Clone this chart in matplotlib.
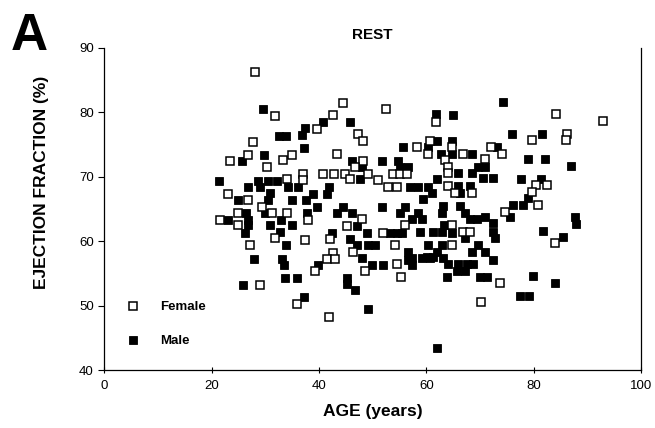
import matplotlib
matplotlib.use('Agg')
import matplotlib.pyplot as plt

plt.rcParams['font.family'] = ['Liberation Sans', 'DejaVu Sans']

# %% data: (age, ejection fraction)
female_age = [28.1, 31.8, 27.7, 35.0, 33.3, 23.5, 26.8, 30.4, 34.1, 23.1,
              26.8, 29.4, 25.0, 31.3, 34.1, 21.6, 25.0, 31.8, 37.4, 27.2,
              29.1, 35.9, 44.5, 52.5, 42.6, 39.7, 47.3, 48.2, 43.4, 48.2,
              46.7, 37.1, 40.8, 42.8, 44.9, 45.8, 49.2, 51.0, 53.8, 55.1,
              56.4, 37.1, 52.9, 54.6, 38.0, 48.0, 45.3, 52.0, 42.1, 54.2,
              42.6, 41.5, 43.0, 46.4, 54.6, 48.6, 39.3, 55.3, 41.9, 61.8,
              58.3, 60.7, 60.3, 64.8, 66.9, 72.1, 74.1, 70.9, 63.5, 64.1,
              64.1, 64.1, 65.4, 68.5, 74.7, 56.1, 64.8, 66.9, 68.2, 64.8,
              73.7, 70.2, 84.2, 92.9, 79.7, 86.2, 86.0, 80.4, 82.5, 79.7,
              80.8, 84.0]
female_ef = [86.2, 79.4, 75.3, 73.3, 72.6, 72.4, 73.3, 71.5, 69.6, 67.3,
             66.4, 65.3, 64.3, 64.3, 64.3, 63.3, 62.5, 60.5, 60.2, 59.4,
             53.2, 50.3, 81.4, 80.5, 79.5, 77.4, 76.6, 75.5, 73.5, 72.4,
             71.5, 70.4, 70.4, 70.4, 70.4, 69.6, 70.4, 69.5, 70.4, 70.4,
             70.4, 69.5, 68.4, 68.4, 63.3, 63.4, 62.3, 61.2, 60.3, 59.4,
             58.1, 57.2, 57.2, 58.3, 56.4, 55.3, 55.3, 54.4, 48.2, 78.4,
             74.6, 75.5, 73.5, 74.6, 73.5, 74.6, 73.5, 72.7, 72.6, 71.5,
             70.5, 68.5, 67.4, 67.4, 64.5, 62.5, 62.5, 61.4, 61.4, 59.4,
             53.5, 50.5, 79.7, 78.6, 75.7, 76.6, 75.7, 68.7, 68.7, 67.6,
             65.6, 59.7]

male_age = [29.6, 32.6, 33.9, 29.8, 25.7, 21.4, 26.8, 28.7, 29.1, 30.5,
            32.2, 34.3, 36.1, 25.0, 30.9, 30.5, 35.0, 26.4, 30.0, 26.8,
            23.1, 26.8, 30.9, 33.0, 35.0, 32.8, 26.3, 33.9, 27.9, 33.1,
            33.5, 33.7, 35.9, 25.9, 37.2, 36.9, 37.2, 40.8, 45.8, 37.4,
            55.7, 46.2, 51.8, 54.7, 48.0, 55.1, 56.6, 47.7, 41.9, 41.5,
            38.9, 37.6, 39.7, 37.8, 44.5, 43.4, 46.2, 51.8, 55.1, 47.1,
            49.0, 53.3, 54.6, 55.5, 42.5, 45.8, 47.1, 49.2, 50.5, 48.0,
            56.6, 56.6, 49.9, 52.0, 39.9, 45.3, 45.3, 46.7, 49.2, 62.0,
            63.9, 60.1, 61.3, 74.3, 61.8, 65.0, 76.0, 60.3, 62.0, 62.8,
            64.8, 64.8, 68.5, 73.2, 65.9, 68.5, 69.6, 70.9, 70.6, 72.4,
            57.0, 58.5, 60.3, 62.0, 61.1, 59.4, 65.9, 68.2, 66.3, 63.1,
            66.3, 67.2, 58.5, 57.4, 59.2, 62.9, 63.3, 68.2, 69.5, 70.9,
            72.4, 58.8, 61.3, 62.9, 64.8, 67.2, 72.4, 72.8, 60.3, 62.9,
            68.5, 69.6, 70.9, 57.4, 59.2, 60.7, 62.0, 57.4, 63.1, 64.1,
            65.9, 67.6, 68.7, 72.4, 65.7, 67.2, 70.0, 71.3, 81.6, 79.0,
            82.1, 87.0, 77.7, 81.4, 79.0, 76.2, 78.0, 75.6, 87.7, 87.9,
            81.8, 85.5, 79.9, 84.0, 77.5, 79.1, 56.1]
male_ef = [80.5, 76.3, 76.3, 73.3, 72.4, 69.3, 68.4, 69.3, 68.4, 69.3,
           69.3, 68.4, 68.4, 66.4, 67.4, 66.4, 66.4, 64.3, 64.3, 63.3,
           63.3, 62.5, 62.5, 63.3, 62.5, 61.4, 61.2, 59.4, 57.2, 57.2,
           56.3, 54.3, 54.3, 53.2, 51.3, 76.4, 74.4, 78.4, 78.4, 77.5,
           74.6, 72.4, 72.4, 72.4, 71.5, 71.5, 71.5, 69.6, 68.4, 67.3,
           67.3, 66.4, 65.3, 64.3, 65.3, 64.3, 64.3, 65.3, 64.3, 62.3,
           61.2, 61.2, 61.2, 61.2, 61.2, 60.3, 59.4, 59.4, 59.4, 57.4,
           58.3, 57.1, 56.3, 56.3, 56.3, 54.3, 53.3, 52.4, 49.5, 43.4,
           54.4, 57.5, 57.5, 81.6, 79.7, 79.5, 76.6, 74.6, 75.5, 73.5,
           75.5, 73.5, 73.5, 74.6, 70.5, 70.5, 71.5, 71.5, 69.8, 69.8,
           68.4, 68.4, 68.4, 69.6, 67.4, 66.5, 68.5, 68.5, 67.4, 65.4,
           65.4, 64.3, 64.3, 63.4, 63.4, 64.3, 62.5, 63.4, 63.4, 63.7,
           62.8, 61.4, 61.4, 61.4, 61.2, 60.5, 61.4, 60.5, 59.4, 59.4,
           58.3, 59.4, 58.3, 57.4, 57.4, 57.4, 58.3, 56.3, 57.4, 56.4,
           56.4, 56.4, 56.4, 57.1, 55.3, 55.3, 54.4, 54.4, 76.6, 72.7,
           72.7, 71.6, 69.6, 69.6, 66.7, 65.6, 65.6, 63.7, 63.7, 62.6,
           61.6, 60.6, 54.6, 53.5, 51.5, 51.5, 65.3]

x_ticks = [0, 20, 40, 60, 80, 100]
y_ticks = [40, 50, 60, 70, 80, 90]

# %% figure
fig = plt.figure(figsize=(6.55, 4.28), dpi=100)
ax = fig.add_axes([0.159, 0.1355, 0.820, 0.7535])

ax.plot(male_age, male_ef, 's', ms=5.8, mfc='black', mec='black', mew=0.6,
        ls='none', label='Male', zorder=2)
ax.plot(female_age, female_ef, 's', ms=5.6, mfc='white', mec='black', mew=1.1,
        ls='none', label='Female', zorder=3)

ax.set_xlim(0, 100)
ax.set_ylim(40, 90)
ax.set_xticks(x_ticks)
ax.set_yticks(y_ticks)
ax.tick_params(axis='y', direction='out', length=4, width=0.8, labelsize=9.5)
ax.tick_params(axis='x', direction='inout', length=5, width=0.8, labelsize=9.5,
               pad=5)
ax.spines['top'].set_visible(False)
for s in ['left', 'bottom', 'right']:
    ax.spines[s].set_linewidth(0.9)

h, l = ax.get_legend_handles_labels()
leg = ax.legend(h[::-1], l[::-1], loc='upper left', bbox_to_anchor=(0.02, 0.25),
                frameon=False, handletextpad=1.5, labelspacing=1.65,
                prop={'weight': 'bold', 'size': 9.5}, handlelength=1.0)

ax.set_title('REST', fontweight='bold', fontsize=11, pad=6)
ax.set_xlabel('AGE (years)', fontweight='bold', fontsize=12.5, labelpad=8)
fig.text(0.063, 0.575, 'EJECTION FRACTION (%)', rotation=90, ha='center',
         va='center', fontweight='bold', fontsize=12.5)
fig.text(0.016, 0.972, 'A', ha='left', va='top', fontweight='bold', fontsize=37)

fig.savefig('out.png', dpi=100)
